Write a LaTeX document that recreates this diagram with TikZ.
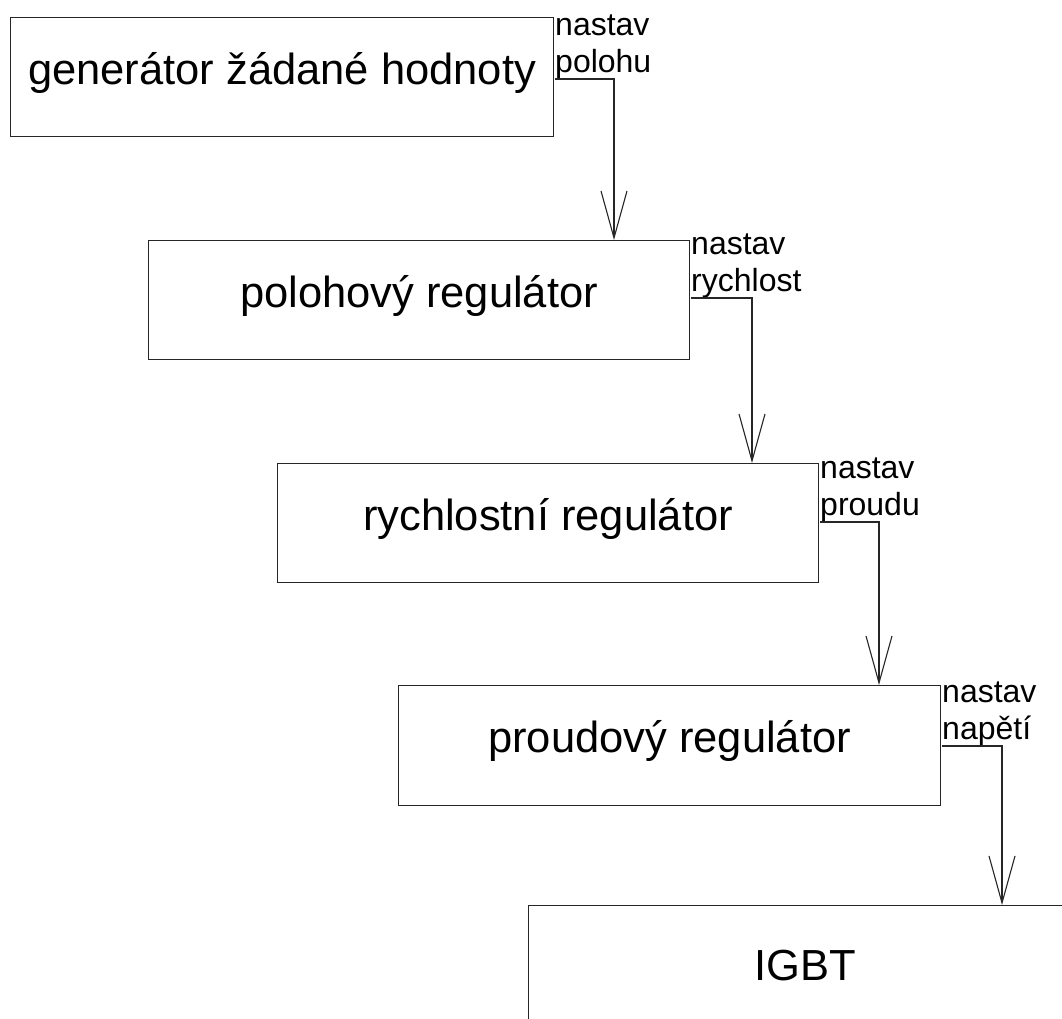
\documentclass[tikz,border=0pt]{standalone}
\usepackage{fontspec}
\setmainfont{Liberation Sans}
\usetikzlibrary{arrows.meta}
\begin{document}
\begin{tikzpicture}[x=1pt,y=-1pt,
  box/.style={draw=black!85, line width=1.1pt, anchor=north west, inner sep=0pt,
    font=\fontsize{43.5}{48}\selectfont, text height=33pt, text depth=19pt},
  lab/.style={anchor=south west, inner sep=0pt, align=left,
    font=\fontsize{32}{37}\selectfont},
  flow/.style={draw=black!85, line width=1.1pt,
    -{Straight Barb[length=47pt,width=26pt]}}]
\useasboundingbox (0,0) rectangle (1062,1018);
\clip (0,0) rectangle (1062,1018);
\fill[white] (0,0) rectangle (1062,1018);

% cascade of controllers
\node[box, minimum width=543pt, minimum height=119pt] (b1) at (10,17) {generátor žádané hodnoty};
\node[box, minimum width=541pt, minimum height=119pt] (b2) at (148,240) {polohový regulátor};
\node[box, minimum width=541pt, minimum height=119pt] (b3) at (277,463) {rychlostní regulátor};
\node[box, minimum width=542pt, minimum height=120pt] (b4) at (398,685) {proudový regulátor};
\node[box, minimum width=554pt, minimum height=136pt] (b5) at (528,905) {IGBT};

% setpoint labels, underlined by the start of each connector
\node[lab] (l1) at (555,79) {nastav\\polohu};
\node[lab] (l2) at (691,298) {nastav\\rychlost};
\node[lab] (l3) at (820,522) {nastav\\proudu};
\node[lab] (l4) at (942,746) {nastav\\napětí};

% bend points of the connectors
\coordinate (c1) at (614,79);
\coordinate (c2) at (752,298);
\coordinate (c3) at (879,522);
\coordinate (c4) at (1002,746);

\draw[flow] (l1.south west) -| (b2.north -| c1);
\draw[flow] (l2.south west) -| (b3.north -| c2);
\draw[flow] (l3.south west) -| (b4.north -| c3);
\draw[flow] (l4.south west) -| (b5.north -| c4);
\end{tikzpicture}
\end{document}
